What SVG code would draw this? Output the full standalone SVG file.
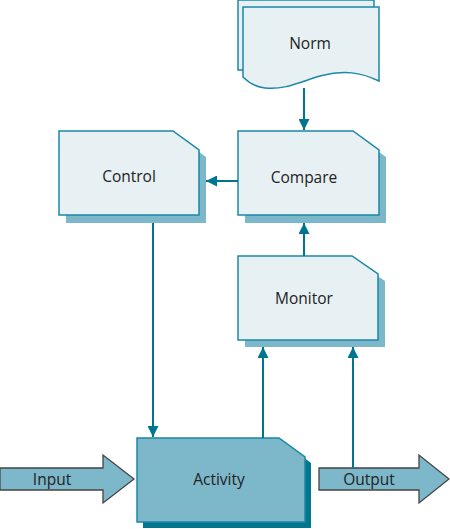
<svg xmlns="http://www.w3.org/2000/svg" width="450" height="529" viewBox="0 0 450 529">
<style>
.box{fill:#e7f0f3;stroke:#1b88a6;stroke-width:1.5}
.shadow{fill:#7db7ca}
.act{fill:#7db7ca;stroke:#1b88a6;stroke-width:1.5}
.actsh{fill:#00768f}
.big{fill:#7db7ca;stroke:#444;stroke-width:1.3}
.lbl{font-family:"Open Sans","Liberation Sans",sans-serif;font-size:15.5px;fill:#222;text-anchor:middle;dominant-baseline:central}
.conn{stroke:#00758f;stroke-width:2;fill:none}
</style>
<defs>
<marker id="ah" viewBox="0 0 10 10" refX="10" refY="5" markerWidth="5.5" markerHeight="5.5" orient="auto" markerUnits="strokeWidth">
<path d="M0,0 L10,5 L0,10 z" fill="#00758f"/>
</marker>
</defs>
<g id="norm">
<path class="box" d="M238,0 L374,0 L374,70 L238,70 Z"/>
<path class="box" d="M243,7 L379,7 L379,81 C360,72 345,70 320,76 C300,82 285,90 265,88 C255,87 248,82 243,77 Z"/>
<text class="lbl" x="310" y="43">Norm</text>
</g>
<g id="control">
<path class="shadow" d="M180,138 L206,157 L206,223 L66,223 L66,138 Z"/>
<path class="box" d="M59,131 L173,131 L199,150 L199,215 L59,215 Z"/>
<text class="lbl" x="129" y="176">Control</text>
</g>
<g id="compare">
<path class="shadow" d="M245,138 L359,138 L386,157 L386,223 L245,223 Z"/>
<path class="box" d="M238,131 L353,131 L379,150 L379,215 L238,215 Z"/>
<text class="lbl" x="304" y="177">Compare</text>
</g>
<g id="monitor">
<path class="shadow" d="M245,263 L358,263 L385,281 L385,347 L245,347 Z"/>
<path class="box" d="M238,256 L352,256 L378,274 L378,340 L238,340 Z"/>
<text class="lbl" x="304" y="298">Monitor</text>
</g>
<g id="activity">
<path class="actsh" d="M143,444 L285,444 L311,463 L311,528 L143,528 Z"/>
<path class="act" d="M137,438 L279,438 L305,457 L305,522 L137,522 Z"/>
<text class="lbl" x="219" y="479">Activity</text>
</g>
<g id="input">
<path class="big" d="M0,468 L103,468 L103,455 L134,479 L103,503 L103,490 L0,490 Z"/>
<text class="lbl" x="52" y="479">Input</text>
</g>
<g id="output">
<path class="big" d="M319,468 L419,468 L419,455 L449,479 L419,503 L419,490 L319,490 Z"/>
<text class="lbl" x="369" y="479">Output</text>
</g>
<g id="connectors">
<path class="conn" d="M304,88 L304,130" marker-end="url(#ah)"/>
<path class="conn" d="M238,181 L206,181" marker-end="url(#ah)"/>
<path class="conn" d="M304,256 L304,223" marker-end="url(#ah)"/>
<path class="conn" d="M153,223 L153,437" marker-end="url(#ah)"/>
<path class="conn" d="M263,438 L263,347" marker-end="url(#ah)"/>
<path class="conn" d="M353,468 L353,347" marker-end="url(#ah)"/>
</g>
</svg>
